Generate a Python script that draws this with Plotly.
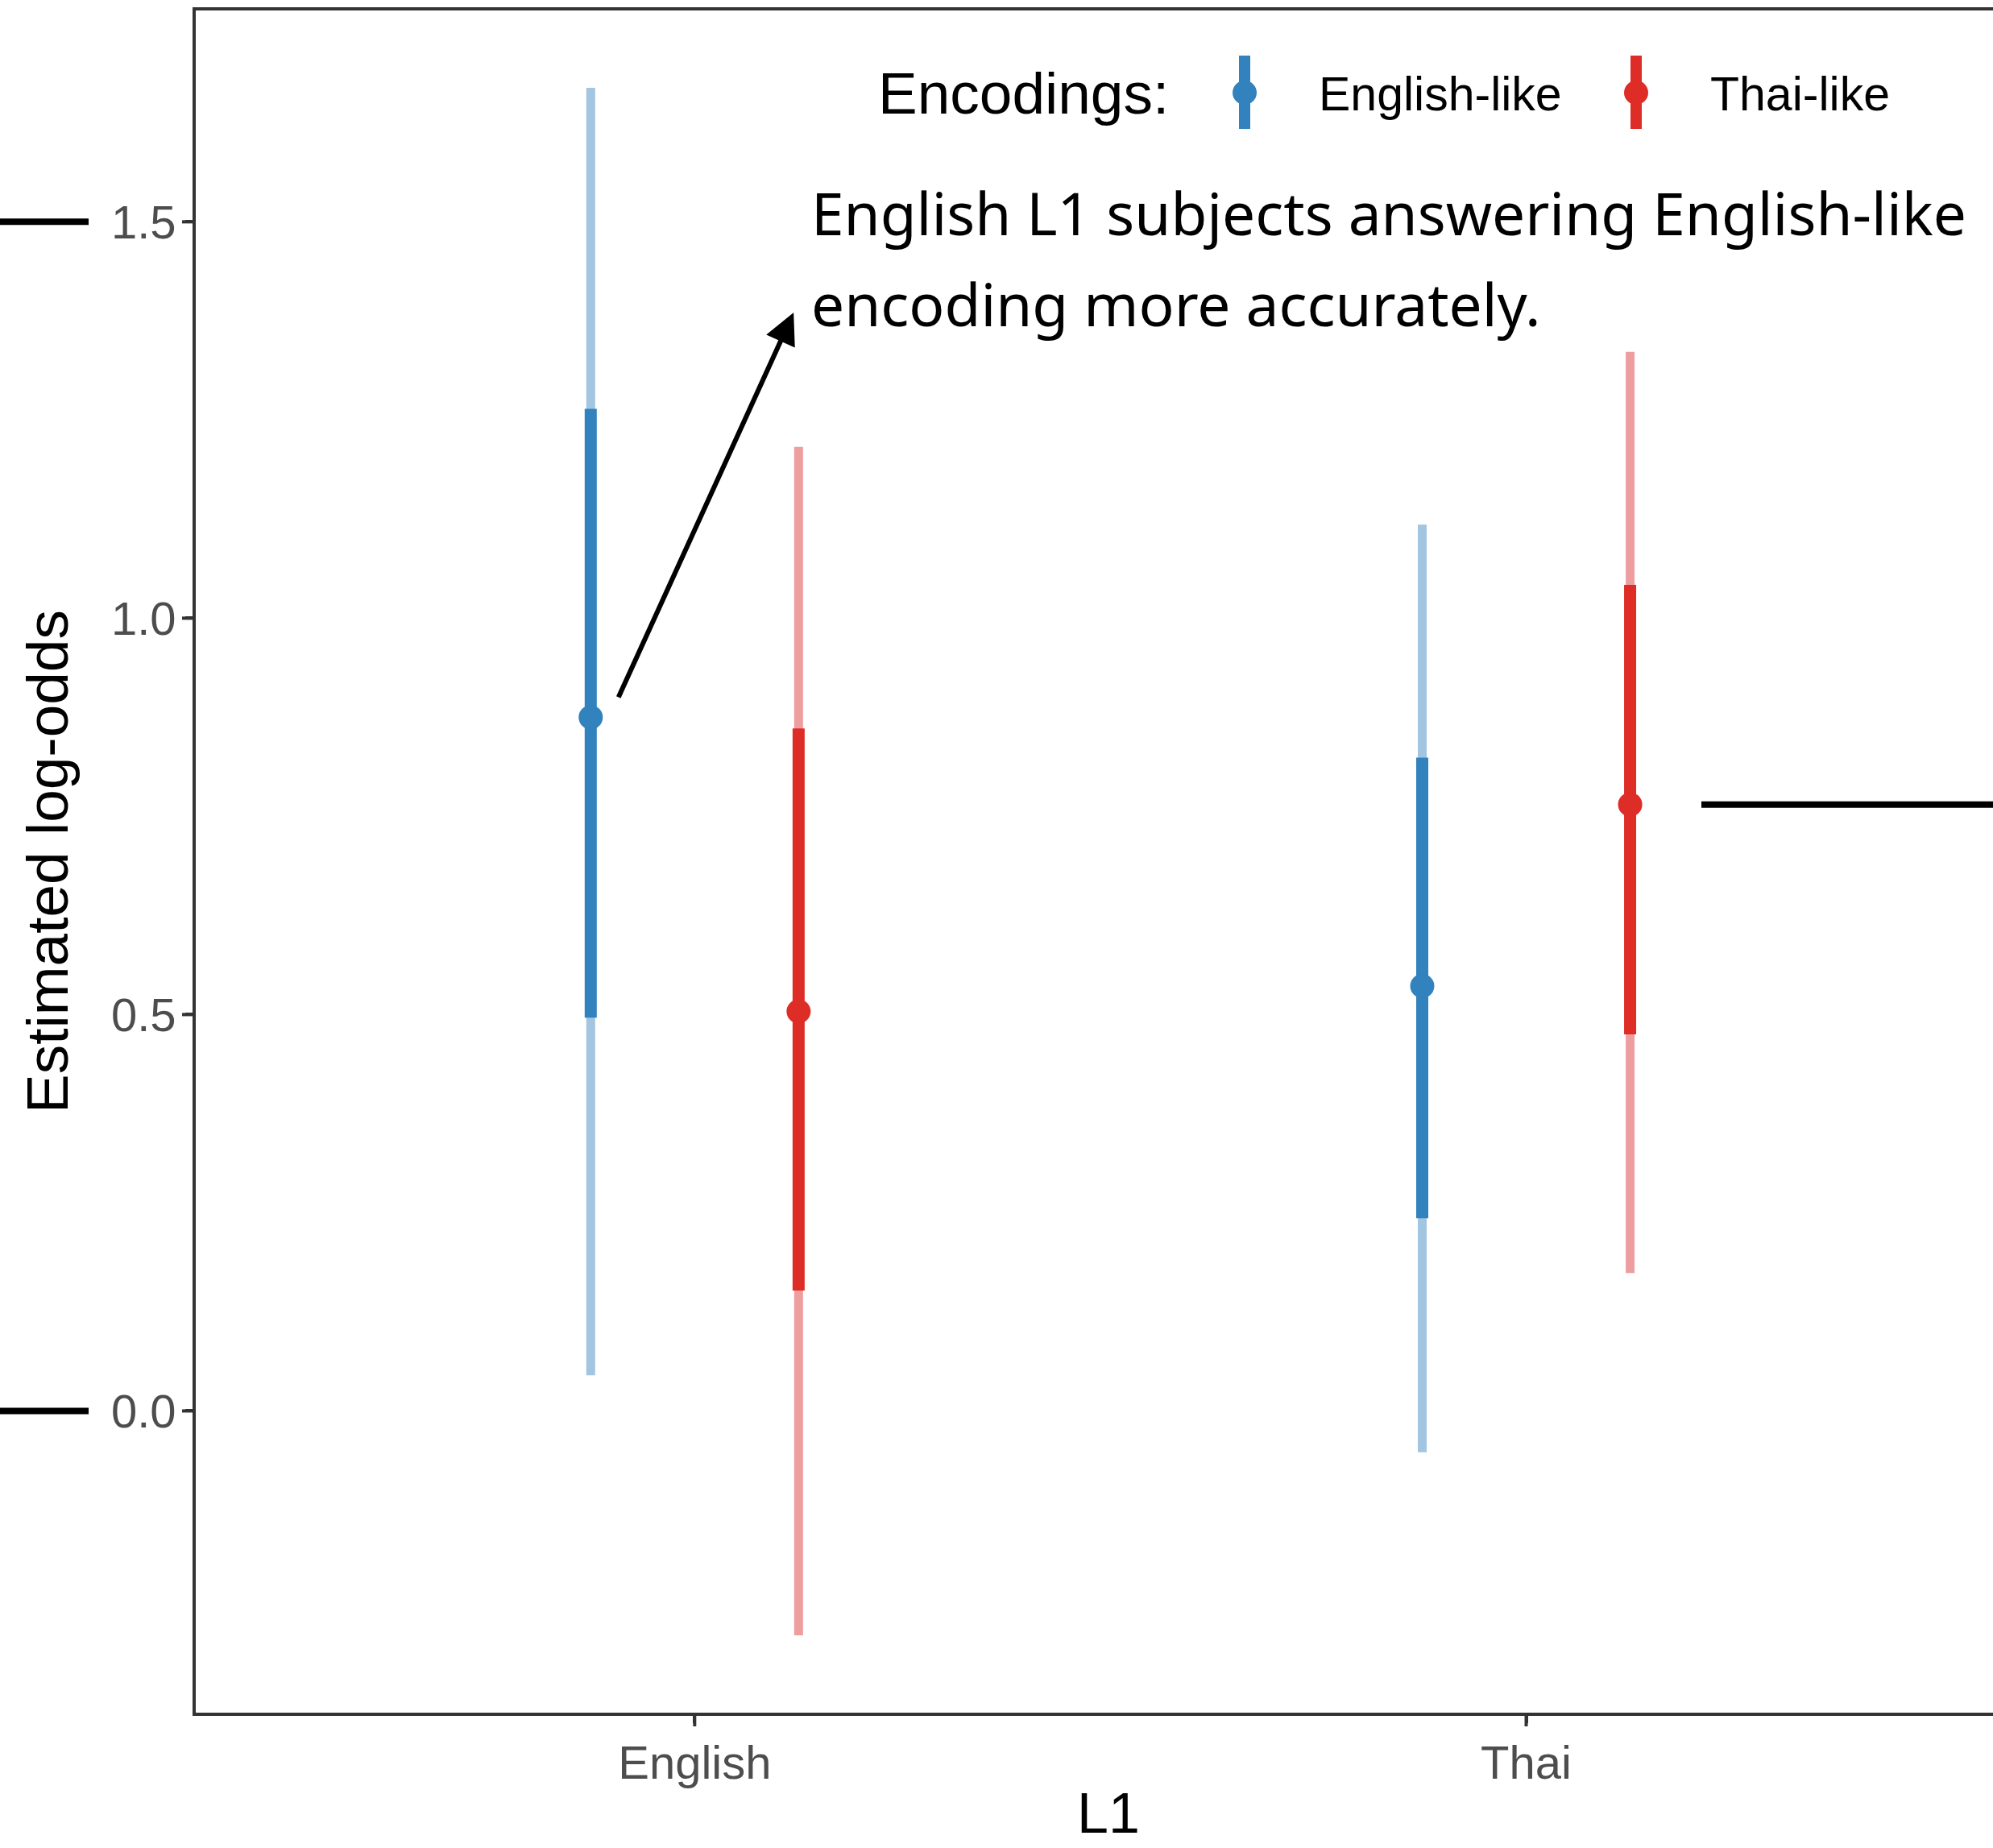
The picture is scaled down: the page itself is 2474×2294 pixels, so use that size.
import plotly.graph_objects as go

# ---------------- data ----------------
l1_groups = ["English", "Thai"]
encodings = ["English-like", "Thai-like"]

english_like_est = [0.875, 0.536]
english_like_lo50 = [0.496, 0.243]
english_like_hi50 = [1.264, 0.824]
english_like_lo95 = [0.045, -0.052]
english_like_hi95 = [1.669, 1.118]

thai_like_est = [0.504, 0.765]
thai_like_lo50 = [0.152, 0.475]
thai_like_hi50 = [0.861, 1.042]
thai_like_lo95 = [-0.283, 0.174]
thai_like_hi95 = [1.216, 1.336]

y_ticks = [0.0, 0.5, 1.0, 1.5]
note_lines = ["English L1 subjects answering English-like",
              "encoding more accurately."]

# ---------------- style ----------------
W, H = 2474, 2294
ML, MR, MT, MB = 243, 0, 13, 168
PW = W - ML - MR
PH = H - MT - MB

colors = {"English-like": "#3182BD", "Thai-like": "#DE2D26"}
light = {"English-like": "#A2C5E2", "Thai-like": "#EF9EA0"}
dodge = {"English-like": -0.125, "Thai-like": 0.125}

series = {
    "English-like": (english_like_est, english_like_lo50, english_like_hi50,
                     english_like_lo95, english_like_hi95),
    "Thai-like": (thai_like_est, thai_like_lo50, thai_like_hi50,
                  thai_like_lo95, thai_like_hi95),
}

fig = go.Figure()
base_x = list(range(1, len(l1_groups) + 1))

for enc in encodings:
    est, lo50, hi50, lo95, hi95 = series[enc]
    xs = [b + dodge[enc] for b in base_x]
    # 95% interval (thin, light)
    fig.add_trace(go.Scatter(
        x=xs, y=est, mode="markers",
        marker=dict(size=1, color="rgba(0,0,0,0)"),
        error_y=dict(type="data", symmetric=False,
                     array=[h - e for h, e in zip(hi95, est)],
                     arrayminus=[e - l for e, l in zip(est, lo95)],
                     color=light[enc], thickness=11, width=0),
        showlegend=False, hoverinfo="skip", name=enc + " 95%"))
    # 50% interval (thick) + point
    fig.add_trace(go.Scatter(
        x=xs, y=est, mode="markers",
        marker=dict(size=30, color=colors[enc]),
        error_y=dict(type="data", symmetric=False,
                     array=[h - e for h, e in zip(hi50, est)],
                     arrayminus=[e - l for e, l in zip(est, lo50)],
                     color=colors[enc], thickness=15, width=0),
        showlegend=False, name=enc))

all_lo = english_like_lo95 + thai_like_lo95
all_hi = english_like_hi95 + thai_like_hi95
span = max(all_hi) - min(all_lo)
y_range = [min(all_lo) - 0.05 * span, max(all_hi) + 0.05 * span]
x_range = [0.4, 0.4 + PW / 1032.2]

axis_color = "#333333"
TICK_LEN = 17
fig.update_layout(
    width=W, height=H,
    margin=dict(l=ML, r=MR, t=MT, b=MB),
    paper_bgcolor="white", plot_bgcolor="white",
    showlegend=False,
    font=dict(family="Liberation Sans, Arial, sans-serif", color="black"),
    xaxis=dict(range=x_range, tickmode="array", tickvals=base_x, ticktext=l1_groups,
               showgrid=False, zeroline=False, showline=True, mirror=True,
               linecolor=axis_color, linewidth=3.5,
               ticks="outside", ticklen=9, tickwidth=4, tickcolor=axis_color,
               tickfont=dict(size=58, color="#4D4D4D")),
    yaxis=dict(range=y_range, tickmode="array", tickvals=y_ticks,
               ticktext=[f"{v:.1f}" for v in y_ticks],
               showgrid=False, zeroline=False, showline=True, mirror=False,
               linecolor=axis_color, linewidth=3.5,
               ticks="outside", ticklen=9, tickwidth=4, tickcolor=axis_color,
               tickfont=dict(size=58, color="#4D4D4D"),
               title=dict(text="Estimated log-odds", font=dict(size=73, color="black"),
                          standoff=30)),
)

# full-length tick marks (labels sit closer to the axis, as in the reference)
for yv in y_ticks:
    fig.add_shape(type="line", xref="paper", yref="y", xsizemode="pixel", xanchor=0,
                  x0=-TICK_LEN, x1=0, y0=yv, y1=yv,
                  line=dict(color=axis_color, width=4), layer="above")
for xv in base_x:
    fig.add_shape(type="line", xref="x", yref="paper", ysizemode="pixel", yanchor=0,
                  y0=-TICK_LEN, y1=0, x0=xv, x1=xv,
                  line=dict(color=axis_color, width=4), layer="above")

def px_x(px):
    return (px - ML) / PW

def px_y(py):
    return 1 - (py - MT) / PH

# x axis title (centred on the full ggplot panel, part of which is cropped)
fig.add_annotation(x=px_x(1376), y=px_y(2292), xref="paper", yref="paper", text="L1",
                   showarrow=False, xanchor="center", yanchor="bottom",
                   font=dict(size=70, color="black"))

# ----- arrow + note -----
fig.add_annotation(x=1.119, y=1.3855, ax=0.9077, ay=0.8988, xref="x", yref="y",
                   axref="x", ayref="y", text="", showarrow=True, arrowhead=2,
                   arrowsize=1.3, arrowwidth=6, arrowcolor="black", standoff=0,
                   startstandoff=0)
note_y = [1.5120, 1.3977]
for txt, yy in zip(note_lines, note_y):
    fig.add_annotation(x=1.138, y=yy, xref="x", yref="y", text=txt, showarrow=False,
                       xanchor="left", yanchor="middle",
                       font=dict(family="Noto Sans, DejaVu Sans, sans-serif", size=73,
                                 color="black"))

# ----- reference lines outside / at edge -----
line_style = dict(color="black", width=8)
for yv in [1.5, 0.0]:
    fig.add_shape(type="line", xref="paper", yref="y", x0=-ML / PW, x1=(110 - ML) / PW,
                  y0=yv, y1=yv, line=line_style, layer="above")
fig.add_shape(type="line", xref="paper", yref="y", x0=(2112 - ML) / PW, x1=1.0,
              y0=thai_like_est[1], y1=thai_like_est[1], line=line_style, layer="above")

# ----- manual legend -----
legend_font = "Liberation Sans, Arial, sans-serif"
fig.add_annotation(x=px_x(1088), y=px_y(115), xref="paper", yref="paper",
                   text="Encodings:", showarrow=False, xanchor="left", yanchor="middle",
                   font=dict(family=legend_font, size=73, color="black"))
key_x = {"English-like": 1545, "Thai-like": 2031}
label_x = {"English-like": 1635, "Thai-like": 2121}
for enc in encodings:
    kx = px_x(key_x[enc])
    fig.add_shape(type="line", xref="paper", yref="paper", x0=kx, x1=kx,
                  y0=px_y(69), y1=px_y(160), line=dict(color=colors[enc], width=14))
    fig.add_shape(type="circle", xref="paper", yref="paper", xsizemode="pixel",
                  ysizemode="pixel", xanchor=kx, yanchor=px_y(115),
                  x0=-15, x1=15, y0=-15, y1=15,
                  fillcolor=colors[enc], line=dict(width=0))
    fig.add_annotation(x=px_x(label_x[enc]), y=px_y(117), xref="paper", yref="paper",
                       text=enc, showarrow=False, xanchor="left", yanchor="middle",
                       font=dict(family=legend_font, size=59, color="black"))

fig.write_html(
    "out.html",
    config={"displayModeBar": False},
    post_script="document.body.style.margin='0';document.body.style.overflow='hidden';",
)
